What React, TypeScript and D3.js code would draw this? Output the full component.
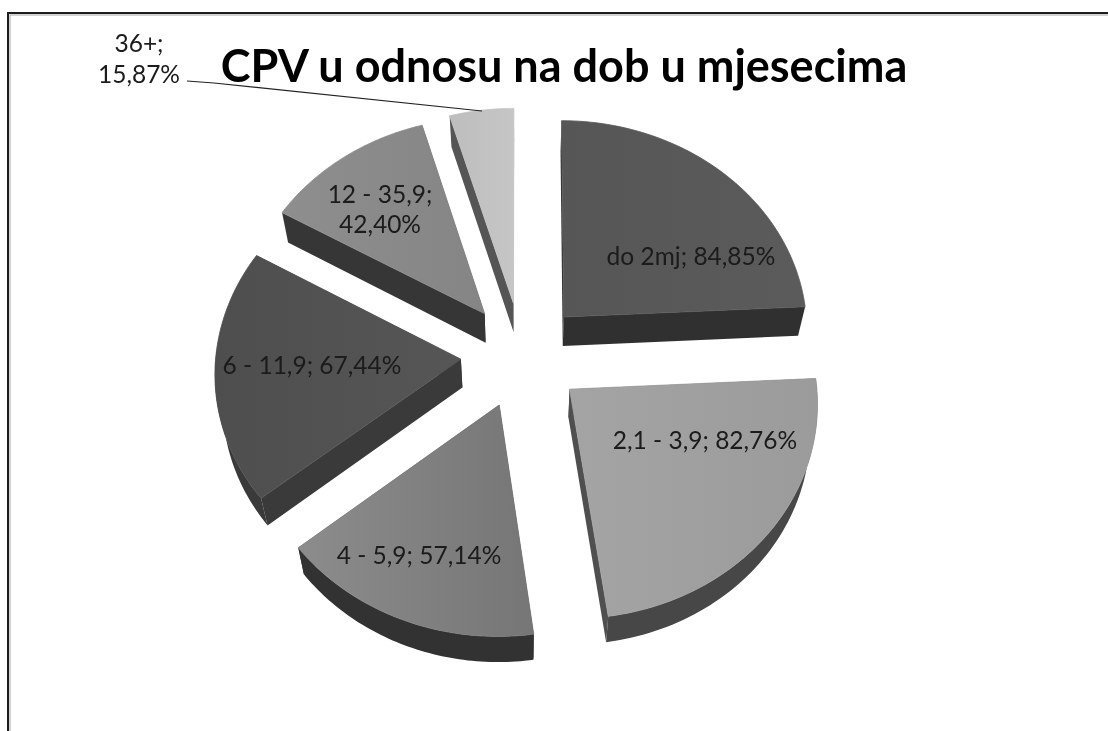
import React from 'react';
import * as d3 from 'd3';

const categories = ['do 2mj', '2,1 - 3,9', '4 - 5,9', '6 - 11,9', '12 - 35,9', '36+'];
const values = [84.85, 82.76, 57.14, 67.44, 42.4, 15.87];

// slice colours, same order as categories
const topLeft = ['#565656', '#a4a4a4', '#8c8c8c', '#4e4e4e', '#8e8e8e', '#bdbdbd'];
const topRight = ['#5b5b5b', '#9b9b9b', '#767676', '#565656', '#858585', '#c6c6c6'];
const sideColor = ['#323232', '#474747', '#323232', '#3a3a3a', '#363636', '#555555'];
const edgeColor = ['#303030', '#4f4f4f', '#2e2e2e', '#3a3a3a', '#363636', '#555555'];

// label layout: centre x, first baseline, step to a second line (0 = one line)
const labelLayout: [number, number, number][] = [
  [691, 265, 0],
  [705, 449, 0],
  [419, 564, 0],
  [312, 374, 0],
  [380, 203, 30],
  [139, 52, 31],
];

const WIDTH = 1108;
const HEIGHT = 731;
const CX = 522;
const CY = 355;
const EXPLODE = 0.25;
const THICK = 28.5;
const TILT = 0.058;

const formatValue = (v: number) => d3.format('.2f')(v).replace('.', ',') + '%';

// flat pie coordinates (u to the right, v to the back) to screen
const project = (u: number, v: number): [number, number] => {
  const w = 1 + TILT * v;
  return [CX + (245 * u) / w, CY - (212 * v) / w];
};
const lower = ([x, y]: [number, number]): [number, number] => [
  CX + (x - CX) * 0.975,
  CY + (y - CY) * 0.99 + THICK,
];

const pieGen = d3.pie<number>().sort(null).startAngle(0).endAngle(2 * Math.PI);
const arcs = pieGen(values);
const path = d3.line();

const slices = arcs.map((a, i) => {
  const mid = (a.startAngle + a.endAngle) / 2;
  const ou = EXPLODE * Math.sin(mid);
  const ov = EXPLODE * Math.cos(mid);
  const steps = d3.range(61).map((s) => a.startAngle + ((a.endAngle - a.startAngle) * s) / 60);
  const apex = project(ou, ov);
  const rim = steps.map((t) => project(ou + Math.sin(t), ov + Math.cos(t)));
  // only the part of the rim that faces the viewer shows a wall
  const front = steps
    .filter((t) => Math.cos(t) < 0.05)
    .map((t) => project(ou + Math.sin(t), ov + Math.cos(t)));
  return { i, apex, rim, front, depth: ov };
});

const quad = (p: [number, number], q: [number, number]) =>
  path([p, q, lower(q), lower(p)]) + 'Z';
const wall = (pts: [number, number][]) =>
  path([...pts, ...pts.map(lower).reverse()]) + 'Z';

// back slices first
const ordered = [...slices].sort((a, b) => b.depth - a.depth);

export default function App() {
  return (
    <svg
      width={WIDTH}
      height={HEIGHT}
      style={{ position: 'absolute', left: 0, top: 0, background: '#fff' }}
      fontFamily="Lato, 'Open Sans', sans-serif"
    >
      <defs>
        <filter id="soft" x="-5%" y="-20%" width="110%" height="140%">
          <feGaussianBlur stdDeviation="0.45" />
        </filter>
        {categories.map((_, i) => (
          <linearGradient key={i} id={`top${i}`} x1="0" x2="1" y1="0" y2="0">
            <stop offset="0" stopColor={topLeft[i]} />
            <stop offset="1" stopColor={topRight[i]} />
          </linearGradient>
        ))}
      </defs>

      {/* frame */}
      <path d={`M${WIDTH},13H8V${HEIGHT}`} fill="none" stroke="#1c1c1c" strokeWidth={2} />
      <path d={`M10,${HEIGHT}V15H${WIDTH}`} fill="none" stroke="#c4c4c4" strokeWidth={1.5} />

      {ordered.map(({ i, apex, rim, front }) => (
        <g key={i}>
          <path d={quad(apex, rim[0])} fill={edgeColor[i]} />
          <path d={quad(apex, rim[rim.length - 1])} fill={edgeColor[i]} />
          {front.length > 1 && <path d={wall(front)} fill={sideColor[i]} />}
          <path
            d={path([apex, ...rim]) + 'Z'}
            fill={`url(#top${i})`}
            stroke={`url(#top${i})`}
            strokeWidth={0.8}
          />
        </g>
      ))}

      {/* leader for the small slice */}
      <path d="M187,81L214,83L482,111" fill="none" stroke="#222" strokeWidth={1.2} />

      <g filter="url(#soft)">
        <text x={564} y={82} textAnchor="middle" fontSize={45} fontWeight={700} fill="#000">
          CPV u odnosu na dob u mjesecima
        </text>
        {categories.map((c, i) => {
          const [x, y, step] = labelLayout[i];
          const val = formatValue(values[i]);
          return step ? (
            <text key={c} textAnchor="middle" fontSize={24.5} fill="#1a1a1a">
              <tspan x={x} y={y}>{c};</tspan>
              <tspan x={x} y={y + step}>{val}</tspan>
            </text>
          ) : (
            <text key={c} x={x} y={y} textAnchor="middle" fontSize={24.5} fill="#1a1a1a">
              {c}; {val}
            </text>
          );
        })}
      </g>
    </svg>
  );
}
